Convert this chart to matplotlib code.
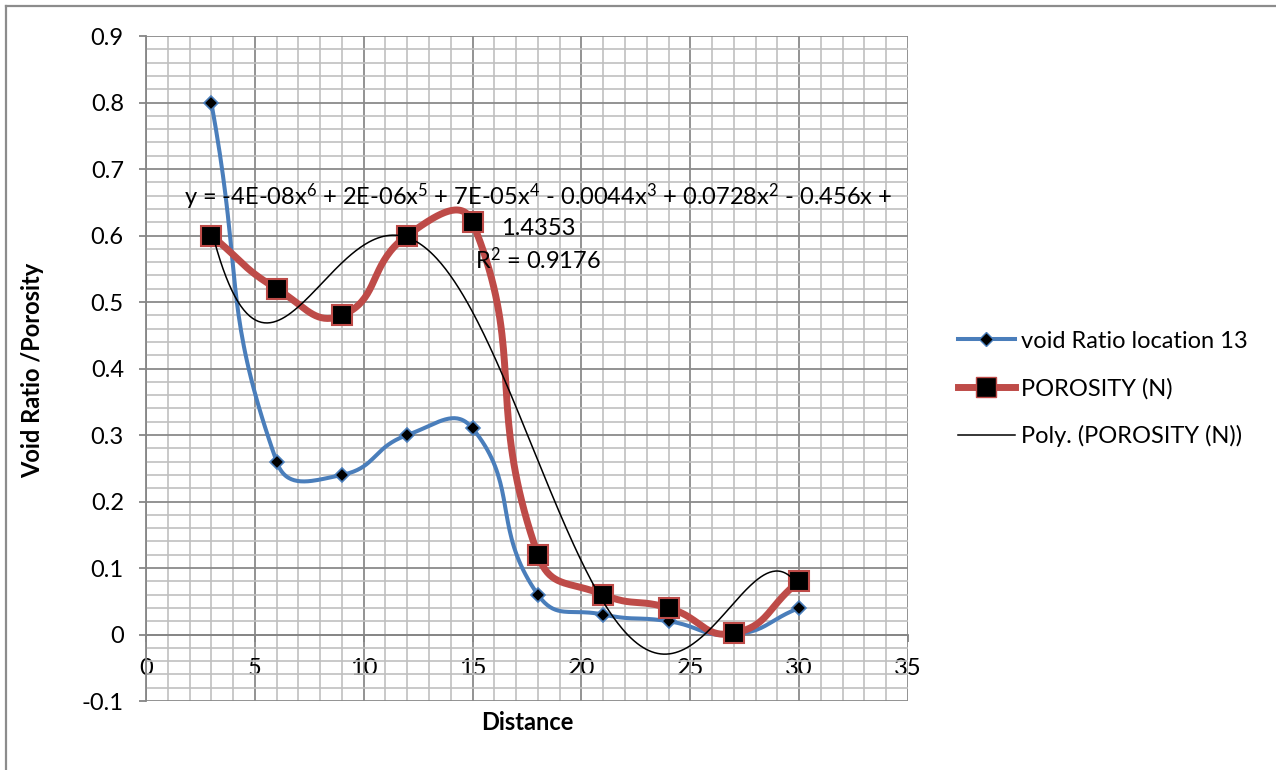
import numpy as np
import matplotlib
matplotlib.use("Agg")
import matplotlib.pyplot as plt
from matplotlib.lines import Line2D
from matplotlib.ticker import MultipleLocator, FuncFormatter

plt.rcParams["font.family"] = ["Lato", "DejaVu Sans"]
plt.rcParams["axes.unicode_minus"] = False
plt.rcParams["mathtext.fontset"] = "custom"
plt.rcParams["mathtext.rm"] = "Lato"
plt.rcParams["mathtext.it"] = "Lato"
plt.rcParams["mathtext.default"] = "regular"

# Data
distance = [3, 6, 9, 12, 15, 18, 21, 24, 27, 30]
void_ratio = [0.80, 0.26, 0.24, 0.30, 0.31, 0.06, 0.03, 0.02, 0.0, 0.04]
porosity = [0.60, 0.52, 0.48, 0.60, 0.62, 0.12, 0.06, 0.04, 0.002, 0.08]

eq_line1 = r"y = -4E-08x$^{6}$ + 2E-06x$^{5}$ + 7E-05x$^{4}$ - 0.0044x$^{3}$ + 0.0728x$^{2}$ - 0.456x +"
eq_line2 = "1.4353"
eq_line3 = r"R$^{2}$ = 0.9176"


def excel_smooth(ax, x, y, n=40, tension=0.5):
    # bezier smoothing done in screen space, like the spreadsheet "smoothed line"
    pts = ax.transData.transform(np.column_stack([x, y]).astype(float))
    out = []
    for i in range(len(pts) - 1):
        p0 = pts[max(i - 1, 0)]
        p1 = pts[i]
        p2 = pts[i + 1]
        p3 = pts[min(i + 2, len(pts) - 1)]
        d01 = np.hypot(*(p1 - p0))
        d12 = np.hypot(*(p2 - p1))
        d23 = np.hypot(*(p3 - p2))
        c1 = p1 + tension * (p2 - p0) * d12 / (d01 + d12)
        c2 = p2 - tension * (p3 - p1) * d12 / (d12 + d23)
        t = np.linspace(0, 1, n)[:, None]
        seg = (1 - t) ** 3 * p1 + 3 * (1 - t) ** 2 * t * c1 + 3 * (1 - t) * t ** 2 * c2 + t ** 3 * p2
        out.append(seg if i == 0 else seg[1:])
    return ax.transData.inverted().transform(np.vstack(out))


blue = "#4a7ebb"
red = "#be4b48"
fs = 17

fig = plt.figure(figsize=(12.76, 7.7), dpi=100)
ax = fig.add_axes([0.1144, 0.0896, 0.5972, 0.8636])

# grid
ax.set_xlim(0, 35)
ax.set_ylim(-0.1, 0.9)
ax.xaxis.set_major_locator(MultipleLocator(5))
ax.xaxis.set_minor_locator(MultipleLocator(1))
ax.yaxis.set_major_locator(MultipleLocator(0.1))
ax.yaxis.set_minor_locator(MultipleLocator(0.02))
ax.grid(which="minor", color="#c0c0c0", linewidth=1.2, zorder=0)
ax.grid(which="major", color="#8a8a8a", linewidth=1.3, zorder=0)
ax.set_axisbelow(True)

for s in ["top", "right"]:
    ax.spines[s].set_visible(False)
ax.spines["left"].set_color("#868686")
ax.spines["bottom"].set_color("#868686")
ax.spines["left"].set_linewidth(1.3)
ax.spines["bottom"].set_linewidth(1.3)
ax.spines["bottom"].set_position(("data", 0))

ax.yaxis.set_major_formatter(FuncFormatter(lambda v, p: f"{round(v, 2):g}"))
ax.tick_params(axis="y", which="major", length=5, width=1.3, color="#868686", pad=11, labelsize=fs)
ax.tick_params(axis="x", which="major", length=5, width=1.3, color="#868686", pad=12, labelsize=fs)
ax.tick_params(which="minor", length=0)

# series
bs = excel_smooth(ax, distance, void_ratio)
ax.plot(bs[:, 0], bs[:, 1], color=blue, lw=2.9, solid_capstyle="round", zorder=3)
ax.plot(distance, void_ratio, ls="none", marker="D", ms=7, mfc="black", mec=blue, mew=1.2, zorder=4)

rs = excel_smooth(ax, distance, porosity)
ax.plot(rs[:, 0], rs[:, 1], color=red, lw=5, solid_capstyle="round", zorder=3)
ax.plot(distance, porosity, ls="none", marker="s", ms=15, mfc="black", mec=red, mew=1.5, zorder=4)

coef = np.polyfit(distance, porosity, 6)
xp = np.linspace(distance[0], distance[-1], 400)
ax.plot(xp, np.polyval(coef, xp), color="black", lw=1.1, zorder=5)

ax.text(18.0, 0.658, eq_line1, ha="center", va="center", fontsize=fs, zorder=6)
ax.text(18.0, 0.610, eq_line2, ha="center", va="center", fontsize=fs, zorder=6)
ax.text(18.0, 0.563, eq_line3, ha="center", va="center", fontsize=fs, zorder=6)

fig.text(527 / 1276, 1 - 723 / 770, "Distance", ha="center", va="center", fontsize=fs, fontweight="bold")
fig.text(33 / 1276, 1 - 370 / 770, "Void Ratio /Porosity", ha="center", va="center",
         rotation=90, fontsize=fs, fontweight="bold")

handles = [
    Line2D([], [], color=blue, lw=2.9, marker="D", ms=7, mfc="black", mec=blue),
    Line2D([], [], color=red, lw=5, marker="s", ms=15, mfc="black", mec=red),
    Line2D([], [], color="black", lw=1.1),
]
labels = ["void Ratio location 13", "POROSITY (N)", "Poly. (POROSITY (N))"]
fig.legend(handles, labels, loc="center left", bbox_to_anchor=(958 / 1276, 1 - 389 / 770),
           frameon=False, fontsize=fs, handlelength=2.4, handletextpad=0.25, labelspacing=1.1,
           borderpad=0, borderaxespad=0)

# outer border of the chart area
fig.add_artist(Line2D([6 / 1276, 1], [1 - 6 / 770, 1 - 6 / 770], color="#8c8c8c", lw=1.6))
fig.add_artist(Line2D([6 / 1276, 6 / 1276], [0, 1 - 6 / 770], color="#8c8c8c", lw=1.6))

fig.savefig("out.png", dpi=100)
